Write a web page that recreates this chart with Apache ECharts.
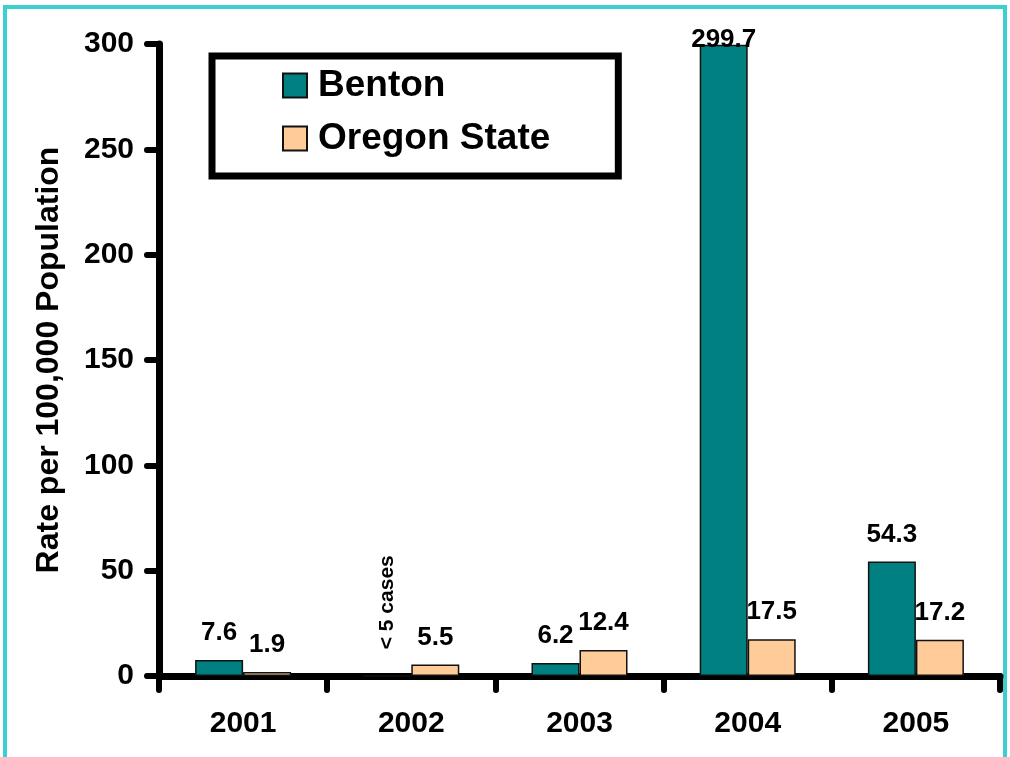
<!DOCTYPE html>
<html>
<head>
<meta charset="utf-8">
<script src="https://cdn.jsdelivr.net/npm/echarts@6/dist/echarts.min.js"></script>
<style>
html,body{margin:0;padding:0;background:#fff;width:1010px;height:757px;overflow:hidden;}
#frame{position:absolute;left:3px;top:5px;width:1004px;height:800px;box-sizing:border-box;border:4px solid #3CCFCF;}
#chart{position:absolute;left:0;top:0;width:1010px;height:757px;}
</style>
</head>
<body>
<div id="frame"></div>
<div id="chart"></div>
<script>
var categories = ['2001', '2002', '2003', '2004', '2005'];
var bentonValues = [7.6, 0, 6.2, 299.7, 54.3];
var bentonNotes = [null, '< 5 cases', null, null, null];
var oregonValues = [1.9, 5.5, 12.4, 17.5, 17.2];
var yTicks = { min: 0, max: 300, interval: 50 };

var FONT = 'Liberation Sans, Arial, sans-serif';
var LABEL_DIST = 14;

var bentonData = bentonValues.map(function (v, i) {
  var item = { value: v };
  if (bentonNotes[i]) {
    item.label = {
      formatter: bentonNotes[i],
      rotate: 90,
      align: 'left',
      verticalAlign: 'middle',
      fontSize: 21,
      distance: 26
    };
  } else if (v > yTicks.max * 0.95) {
    item.label = { distance: LABEL_DIST - 22 };
  }
  return item;
});

var chart = echarts.init(document.getElementById('chart'), null, { renderer: 'canvas' });
chart.setOption({
  animation: false,
  textStyle: { fontFamily: FONT },
  grid: { left: 159, right: 10, top: 44, bottom: 81, containLabel: false },
  legend: {
    orient: 'vertical',
    left: 212,
    top: 56,
    padding: [11, 68, 19, 70],
    borderColor: '#000',
    borderWidth: 7,
    backgroundColor: '#fff',
    itemWidth: 24,
    itemHeight: 24,
    itemGap: 16,
    icon: 'rect',
    textStyle: { fontSize: 37, fontWeight: 'bold', color: '#000', fontFamily: FONT, padding: [0, 0, 0, 6] },
    data: ['Benton', 'Oregon State']
  },
  xAxis: {
    type: 'category',
    data: categories,
    axisLine: { lineStyle: { color: '#000', width: 7, cap: 'round' } },
    axisTick: { show: true, length: 14, lineStyle: { color: '#000', width: 6, cap: 'round' } },
    axisLabel: { fontSize: 30, fontWeight: 'bold', color: '#000', margin: 33, fontFamily: FONT },
    splitLine: { show: false }
  },
  yAxis: {
    type: 'value',
    min: yTicks.min,
    max: yTicks.max,
    interval: yTicks.interval,
    name: 'Rate per 100,000 Population',
    nameLocation: 'middle',
    nameGap: 94,
    nameTextStyle: { fontSize: 32, fontWeight: 'bold', color: '#000', fontFamily: FONT },
    axisLine: { show: true, lineStyle: { color: '#000', width: 7, cap: 'round' } },
    axisTick: { show: true, length: 12, lineStyle: { color: '#000', width: 6, cap: 'round' } },
    axisLabel: { fontSize: 30, fontWeight: 'bold', color: '#000', margin: 25, fontFamily: FONT },
    splitLine: { show: false }
  },
  series: [
    {
      name: 'Benton',
      type: 'bar',
      data: bentonData,
      barWidth: 48,
      barGap: '0%',
      itemStyle: { color: '#008080', borderColor: '#111', borderWidth: 1.5 },
      label: { show: true, position: 'top', distance: LABEL_DIST, fontSize: 26, fontWeight: 'bold', color: '#000', fontFamily: FONT },
      z: 1
    },
    {
      name: 'Oregon State',
      type: 'bar',
      data: oregonValues,
      barWidth: 48,
      barGap: '0%',
      itemStyle: { color: '#FFCC99', borderColor: '#111', borderWidth: 1.5 },
      label: { show: true, position: 'top', distance: LABEL_DIST, fontSize: 26, fontWeight: 'bold', color: '#000', fontFamily: FONT },
      z: 1
    }
  ]
});
</script>
</body>
</html>
